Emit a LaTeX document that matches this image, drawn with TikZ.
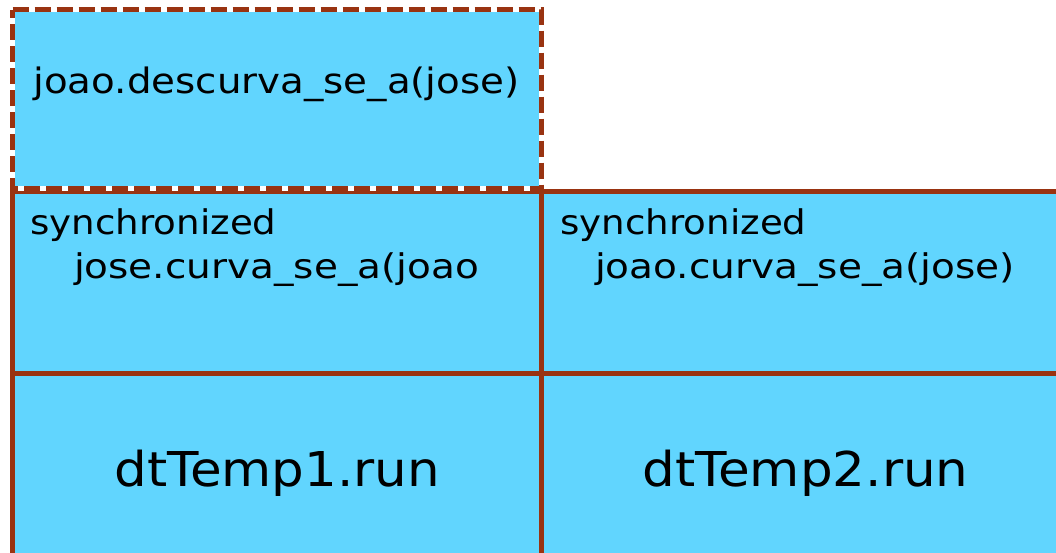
\documentclass[tikz,border=0pt]{standalone}
\usepackage{fontspec}
\usepackage{graphicx}
\newfontfamily\dv{DejaVu Sans}
\definecolor{boxfill}{RGB}{97,213,254}
\definecolor{boxline}{RGB}{153,51,17}
\newcommand{\fitw}[3]{\resizebox{#1}{\height}{\fontsize{#2}{#2}\selectfont #3}}
\begin{document}
\begin{tikzpicture}[x=1pt,y=-1pt,
  cell/.style={rectangle,anchor=north west,inner sep=0pt,outer sep=0pt,
    fill=boxfill,draw=boxline,line width=5.5pt},
  dashcell/.style={rectangle,anchor=north west,inner sep=0pt,outer sep=0pt,
    fill=boxfill,draw=white,line width=5.5pt},
  txt/.style={anchor=base west,inner sep=0pt,outer sep=0pt,text=black,font=\dv}
]
\useasboundingbox (0,0) rectangle (1056,552);
\begin{scope}
\clip (0,0) rectangle (1056,552);
% middle row
\node[cell,minimum width=529pt,minimum height=182pt] (midL) at (12.5,191.5) {};
\node[cell,minimum width=560pt,minimum height=182pt] (midR) at (541.5,191.5) {};
% bottom row
\node[cell,minimum width=529pt,minimum height=230pt] (botL) at (12.5,373.5) {};
\node[cell,minimum width=560pt,minimum height=230pt] (botR) at (541.5,373.5) {};
% dashed top box
\node[dashcell,minimum width=529pt,minimum height=179pt] (top) at (12.5,9.5) {};
\draw[boxline,line width=5.5pt,dash pattern=on 16pt off 6pt]
  (top.north west) -- (top.north east) -- (top.south east) -- (top.south west) -- cycle;
\end{scope}
% texts
\node[txt] (t1) at (33.5,93.5) {\fitw{486pt}{35}{joao.descurva\_se\_a(jose)}};
\node[txt] (s1) at (30.5,234.5) {\fitw{246pt}{34}{synchronized}};
\node[txt] (c1) at (74,278.5) {\fitw{405pt}{34}{jose.curva\_se\_a(joao}};
\node[txt] (s2) at (560.5,234.5) {\fitw{246pt}{34}{synchronized}};
\node[txt] (c2) at (595,278.5) {\fitw{420pt}{34}{joao.curva\_se\_a(jose)}};
\node[txt] (r1) at (114.5,486.5) {\fitw{325.5pt}{48}{dtTemp1.run}};
\node[txt] (r2) at (642.5,486.5) {\fitw{326pt}{48}{dtTemp2.run}};
\end{tikzpicture}
\end{document}
